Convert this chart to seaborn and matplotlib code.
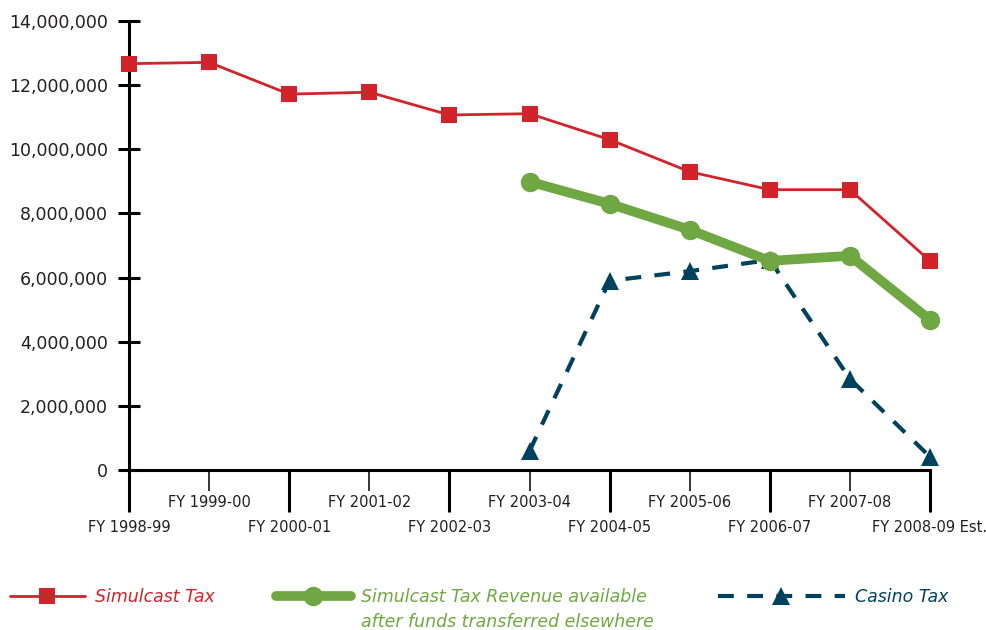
import matplotlib
matplotlib.use("Agg")
import matplotlib.pyplot as plt
import matplotlib.ticker as mticker
from matplotlib.font_manager import FontProperties
import numpy as np
import pandas as pd
import seaborn as sns

# Fiscal years and tax revenue series (dollars)
fiscal_years = ["FY 1998-99", "FY 1999-00", "FY 2000-01", "FY 2001-02", "FY 2002-03",
                "FY 2003-04", "FY 2004-05", "FY 2005-06", "FY 2006-07", "FY 2007-08",
                "FY 2008-09 Est."]
simulcast_tax = [12670000, 12710000, 11720000, 11780000, 11070000, 11110000,
                 10300000, 9300000, 8740000, 8740000, 6520000]
simulcast_available = [None, None, None, None, None, 8990000, 8300000, 7490000,
                       6520000, 6680000, 4680000]
casino_tax = [None, None, None, None, None, 590000, 5900000, 6200000,
              6550000, 2840000, 410000]

y_ticks = [0, 2000000, 4000000, 6000000, 8000000, 10000000, 12000000, 14000000]

label_simulcast = "Simulcast Tax"
label_available = "Simulcast Tax Revenue available"
label_available_2 = "after funds transferred elsewhere"
label_casino = "Casino Tax"

RED = "#D2232A"
GREEN = "#6FA843"
BLUE = "#00415E"
INK = "#231F20"

sns.set_style("ticks")
plt.rcParams["font.family"] = ["DejaVu Sans"]

W, H = 987, 630
fig, ax = plt.subplots(figsize=(W / 100, H / 100), dpi=100)
fig.subplots_adjust(left=129 / W, right=930 / W, top=1 - 21 / H, bottom=1 - 470 / H)

pos = np.arange(len(fiscal_years))
df = pd.DataFrame({
    "pos": pos,
    "year": fiscal_years,
    "simulcast": np.array(simulcast_tax, dtype=float),
    "available": np.array([np.nan if v is None else v for v in simulcast_available], dtype=float),
    "casino": np.array([np.nan if v is None else v for v in casino_tax], dtype=float),
})

sns.lineplot(data=df.dropna(subset=["casino"]), x="pos", y="casino", ax=ax,
             color=BLUE, lw=3, linestyle=(0, (3.8, 3.2)), marker="^",
             markersize=13, markeredgewidth=0, markerfacecolor=BLUE,
             label=label_casino, zorder=2, clip_on=False)
sns.lineplot(data=df.dropna(subset=["available"]), x="pos", y="available", ax=ax,
             color=GREEN, lw=7, marker="o", markersize=14, markeredgewidth=0,
             markerfacecolor=GREEN, label=label_available, zorder=3, clip_on=False)
sns.lineplot(data=df, x="pos", y="simulcast", ax=ax,
             color=RED, lw=2, marker="s", markersize=11, markeredgewidth=0,
             markerfacecolor=RED, label=label_simulcast, zorder=4, clip_on=False)

handles, labels = ax.get_legend_handles_labels()
hmap = dict(zip(labels, handles))
ax.get_legend().remove()

# Axes styling
ax.set_xlim(0, len(fiscal_years) - 1)
ax.set_ylim(0, 14000000)
ax.set_xlabel("")
ax.set_ylabel("")
sns.despine(ax=ax)
for side in ("left", "bottom"):
    ax.spines[side].set_linewidth(2.2)
    ax.spines[side].set_color("black")

ax.set_yticks(y_ticks)
ax.yaxis.set_major_formatter(mticker.FuncFormatter(lambda v, p: f"{int(v):,}"))
ax.tick_params(axis="y", direction="inout", length=16, width=2.2, pad=7,
               labelsize=12.5, labelcolor=INK, color="black")

ax.set_xticks(pos[::2], labels=fiscal_years[::2])
ax.set_xticks(pos[1::2], labels=fiscal_years[1::2], minor=True)
ax.tick_params(axis="x", which="major", direction="out", length=30, width=2.2,
               pad=6, labelsize=10.5, labelcolor=INK, color="black")
ax.tick_params(axis="x", which="minor", direction="out", length=15, width=1.1,
               pad=3, labelsize=10.5, labelcolor=INK, color="black")

# Legend entries along the bottom
prop = FontProperties(family="DejaVu Sans", style="italic", size=12.5)
leg_y = 1 - 597 / H
common = dict(loc="center left", frameon=False, borderpad=0, borderaxespad=0,
              handletextpad=0.6, prop=prop, numpoints=1, labelcolor="linecolor")
leg1 = fig.legend(handles=[hmap[label_simulcast]], labels=[label_simulcast],
                  bbox_to_anchor=(10 / W, leg_y), handlelength=4.3, **common)
leg2 = fig.legend(handles=[hmap[label_available]], labels=[label_available],
                  bbox_to_anchor=(276 / W, leg_y), handlelength=4.3, **common)
leg3 = fig.legend(handles=[hmap[label_casino]], labels=[label_casino],
                  bbox_to_anchor=(718 / W, leg_y), handlelength=7.3, **common)

fig.canvas.draw()
bb = leg2.get_texts()[0].get_window_extent()
fig.text(bb.x0 / W, (bb.y0 + bb.y1) / 2 / H - 25 / H, label_available_2,
         fontproperties=prop, color=GREEN, ha="left", va="center")

fig.savefig("out.png", dpi=100)
